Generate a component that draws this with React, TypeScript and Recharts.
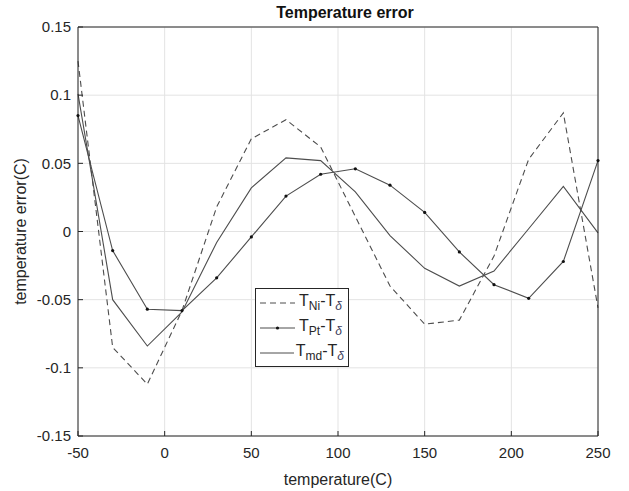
import { CartesianGrid, Line, LineChart, XAxis, YAxis } from 'recharts'

/* Temperature error of three sensor models vs. reference, MATLAB-style figure. */

const temps = [-50, -30, -10, 10, 30, 50, 70, 90, 110, 130, 150, 170, 190, 210, 230, 250]
const niErr = [0.125, -0.085, -0.112, -0.058, 0.018, 0.068, 0.082, 0.062, 0.011, -0.040, -0.068, -0.065, -0.018, 0.053, 0.087, -0.056]
const ptErr = [0.085, -0.014, -0.057, -0.058, -0.034, -0.004, 0.026, 0.042, 0.046, 0.034, 0.014, -0.015, -0.039, -0.049, -0.022, 0.052]
const mdErr = [0.101, -0.050, -0.084, -0.059, -0.008, 0.032, 0.054, 0.052, 0.029, -0.003, -0.027, -0.040, -0.029, 0.002, 0.033, -0.001]

const xTicks = [-50, 0, 50, 100, 150, 200, 250]
const yTicks = [-0.15, -0.1, -0.05, 0, 0.05, 0.1, 0.15]

const rows = temps.map((t, i) => ({ t, ni: niErr[i], pt: ptErr[i], md: mdErr[i] }))

const FONT = '"Liberation Sans", Arial, sans-serif'
const INK = '#262626'
const LINE = '#4d4d4d'
const TICK = { fill: INK, fontSize: 15, fontFamily: FONT }

const fmtY = (v: number) => String(Number(v.toFixed(2)))

function LegendRow({ dash, dot, sub }: { dash?: string; dot?: boolean; sub: string }) {
  return (
    <div style={{ display: 'flex', alignItems: 'center', height: 25 }}>
      <svg width={40} height={12} style={{ marginRight: 2 }}>
        <line x1={3} y1={6} x2={38} y2={6} stroke={LINE} strokeWidth={1} strokeDasharray={dash} />
        {dot && <circle cx={20.5} cy={6} r={1.6} fill="#111" />}
      </svg>
      <span style={{ fontSize: 16, color: INK, whiteSpace: 'nowrap' }}>
        T<sub style={{ fontSize: 12 }}>{sub}</sub>-T<sub style={{ fontSize: 12, fontStyle: 'italic', color: '#3b3b5c' }}>δ</sub>
      </span>
    </div>
  )
}

export default function App() {
  return (
    <div style={{ position: 'absolute', left: 0, top: 0, width: 629, height: 491, background: '#fff', fontFamily: FONT }}>
      <div style={{
        position: 'absolute', left: 78, width: 534, top: 4, textAlign: 'center',
        fontSize: 16, fontWeight: 700, color: '#111',
      }}>
        Temperature error
      </div>
      <LineChart width={629} height={491} data={rows} margin={{ top: 26, right: 30, bottom: 0, left: 0 }}>
        <CartesianGrid stroke="#e3e3e3" />
        <XAxis dataKey="t" type="number" domain={[-50, 250]} ticks={xTicks} height={55}
               tick={TICK} tickSize={-5} tickMargin={16} stroke={INK} interval={0}
               label={{ value: 'temperature(C)', position: 'insideBottom', offset: 6, fill: INK, fontSize: 16, fontFamily: FONT }} />
        <XAxis xAxisId="top" orientation="top" dataKey="t" type="number" domain={[-50, 250]}
               ticks={xTicks} height={1} tick={false} tickSize={-5} stroke={INK} />
        <YAxis type="number" domain={[-0.15, 0.15]} ticks={yTicks} width={78} interval={0}
               tick={TICK} tickSize={-5} tickMargin={12} stroke={INK} tickFormatter={fmtY}
               label={{ value: 'temperature error(C)', angle: -90, position: 'insideLeft', offset: 20,
                        style: { textAnchor: 'middle' }, fill: INK, fontSize: 16, fontFamily: FONT }} />
        <YAxis yAxisId="right" orientation="right" type="number" domain={[-0.15, 0.15]} ticks={yTicks}
               width={1} tick={false} tickSize={-5} stroke={INK} />
        <Line type="linear" dataKey="ni" stroke={LINE} strokeWidth={1.1} strokeDasharray="6 4"
              dot={false} activeDot={false} isAnimationActive={false} />
        <Line type="linear" dataKey="pt" stroke={LINE} strokeWidth={1.1}
              dot={{ r: 1.6, fill: '#111', stroke: 'none' }} activeDot={false} isAnimationActive={false} />
        <Line type="linear" dataKey="md" stroke={LINE} strokeWidth={1.1}
              dot={false} activeDot={false} isAnimationActive={false} />
      </LineChart>
      <div style={{
        position: 'absolute', left: 255, top: 288, background: '#fff', border: `1px solid ${INK}`,
        padding: '1px 4px 1px 1px', width: 87, fontFamily: FONT,
      }}>
        <LegendRow dash="6 4" sub="Ni" />
        <LegendRow dot sub="Pt" />
        <LegendRow sub="md" />
      </div>
    </div>
  )
}
